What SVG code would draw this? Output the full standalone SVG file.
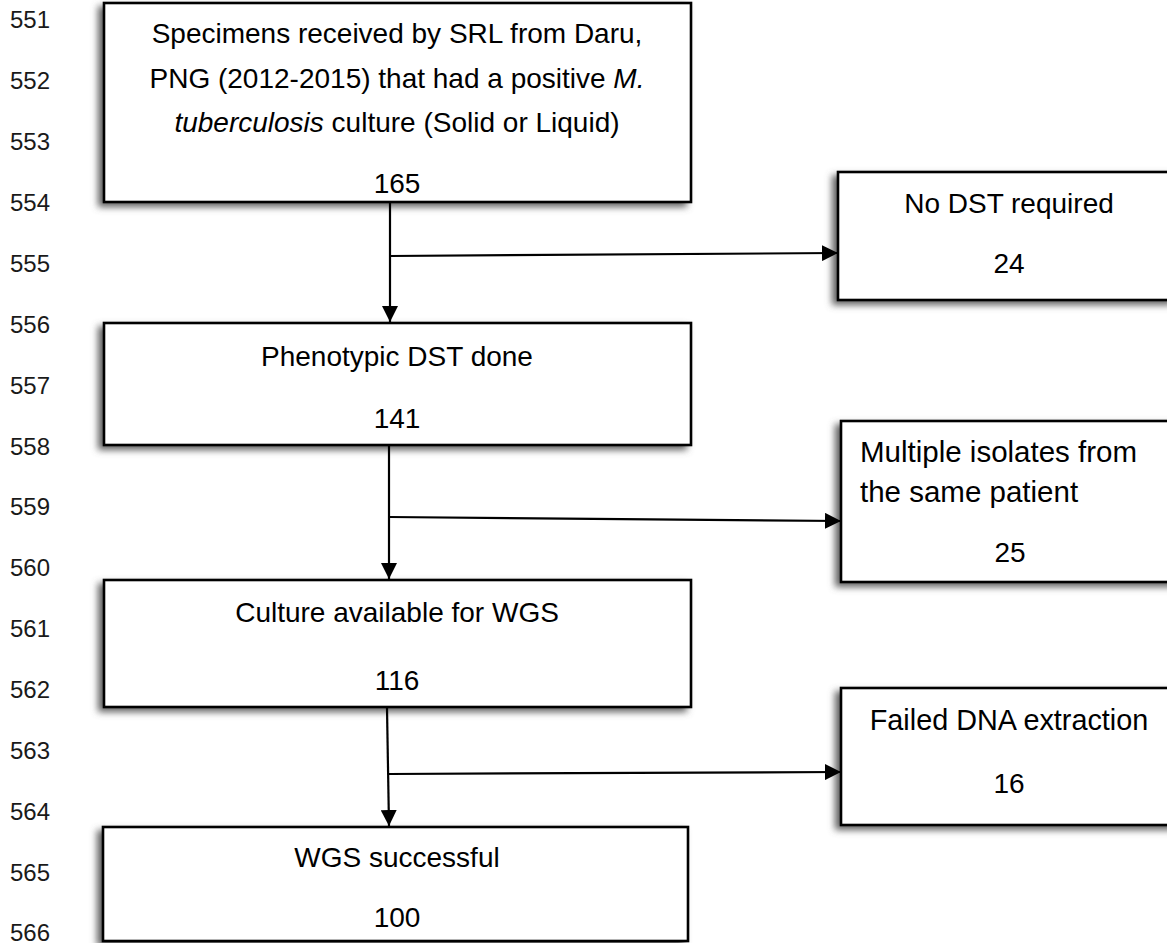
<svg xmlns="http://www.w3.org/2000/svg" width="1167" height="943" viewBox="0 0 1167 943">
<style>
.ln{font-family:"Liberation Sans",Arial,sans-serif;font-size:24px;fill:#1a1a1a}
.t{font-family:"Liberation Sans",Arial,sans-serif;font-size:28px;fill:#000}
.c{text-anchor:middle}
.box{fill:#fff;stroke:#000;stroke-width:2.6}
.shd{fill:#606060}
.con{stroke:#000;stroke-width:2.2;fill:none}
</style>
<defs>
<filter id="blur" x="-10%" y="-25%" width="120%" height="150%"><feGaussianBlur stdDeviation="3.5"/></filter>
<marker id="ah" viewBox="0 0 16 16" refX="16" refY="8" markerWidth="16" markerHeight="16" markerUnits="userSpaceOnUse" orient="auto"><path d="M0,0 L16,8 L0,16 Z" fill="#000"/></marker>
</defs>
<rect width="1167" height="943" fill="#fff"/>
<g id="line-numbers">
<text class="ln" x="10" y="28">551</text>
<text class="ln" x="10" y="89">552</text>
<text class="ln" x="10" y="150">553</text>
<text class="ln" x="10" y="211">554</text>
<text class="ln" x="10" y="272">555</text>
<text class="ln" x="10" y="333">556</text>
<text class="ln" x="10" y="394">557</text>
<text class="ln" x="10" y="455">558</text>
<text class="ln" x="10" y="515">559</text>
<text class="ln" x="10" y="576">560</text>
<text class="ln" x="10" y="637">561</text>
<text class="ln" x="10" y="698">562</text>
<text class="ln" x="10" y="759">563</text>
<text class="ln" x="10" y="820">564</text>
<text class="ln" x="10" y="881">565</text>
<text class="ln" x="10" y="941">566</text>
</g>
<g id="n1">
<rect class="shd" filter="url(#blur)" x="98" y="6" width="589" height="201"/>
<rect class="box" x="104" y="3" width="587" height="199"/>
<text class="t c" x="397" y="43">Specimens received by SRL from Daru,</text>
<text class="t c" x="397" y="88">PNG (2012-2015) that had a positive <tspan font-style="italic">M.</tspan></text>
<text class="t c" x="397" y="132"><tspan font-style="italic">tuberculosis</tspan> culture (Solid or Liquid)</text>
<text class="t c" x="397" y="193">165</text>
</g>
<g id="n2">
<rect class="shd" filter="url(#blur)" x="98" y="326" width="589" height="124"/>
<rect class="box" x="104" y="323" width="587" height="122"/>
<text class="t c" x="397" y="366">Phenotypic DST done</text>
<text class="t c" x="397" y="428">141</text>
</g>
<g id="n3">
<rect class="shd" filter="url(#blur)" x="98" y="583" width="589" height="129"/>
<rect class="box" x="104" y="580" width="587" height="127"/>
<text class="t c" x="397" y="622">Culture available for WGS</text>
<text class="t c" x="397" y="690">116</text>
</g>
<g id="n4">
<rect class="shd" filter="url(#blur)" x="97" y="830" width="587" height="116"/>
<rect class="box" x="103" y="827" width="585" height="114"/>
<text class="t c" x="397" y="867">WGS successful</text>
<text class="t c" x="397" y="927">100</text>
</g>
<g id="n5">
<rect class="shd" filter="url(#blur)" x="832" y="175" width="340" height="130"/>
<rect class="box" x="838" y="172" width="340" height="128"/>
<text class="t c" x="1009" y="213">No DST required</text>
<text class="t c" x="1009" y="273">24</text>
</g>
<g id="n6">
<rect class="shd" filter="url(#blur)" x="835" y="424" width="340" height="163"/>
<rect class="box" x="841" y="421" width="340" height="161"/>
<text class="t" x="860" y="462" style="font-size:29.5px">Multiple isolates from</text>
<text class="t" x="860" y="502" style="font-size:29.5px">the same patient</text>
<text class="t c" x="1010" y="562">25</text>
</g>
<g id="n7">
<rect class="shd" filter="url(#blur)" x="835" y="691" width="340" height="139"/>
<rect class="box" x="841" y="688" width="340" height="137"/>
<text class="t c" x="1009" y="730" style="font-size:28.8px">Failed DNA extraction</text>
<text class="t c" x="1009" y="793">16</text>
</g>
<g id="connectors">
<line class="con" x1="390" y1="203" x2="390" y2="322" marker-end="url(#ah)"/>
<line class="con" x1="390" y1="256" x2="838" y2="253" marker-end="url(#ah)"/>
<line class="con" x1="389" y1="446" x2="389" y2="579" marker-end="url(#ah)"/>
<line class="con" x1="389" y1="517" x2="841" y2="521" marker-end="url(#ah)"/>
<line class="con" x1="387" y1="708" x2="389" y2="826" marker-end="url(#ah)"/>
<line class="con" x1="389" y1="774" x2="841" y2="772" marker-end="url(#ah)"/>
</g>
</svg>
